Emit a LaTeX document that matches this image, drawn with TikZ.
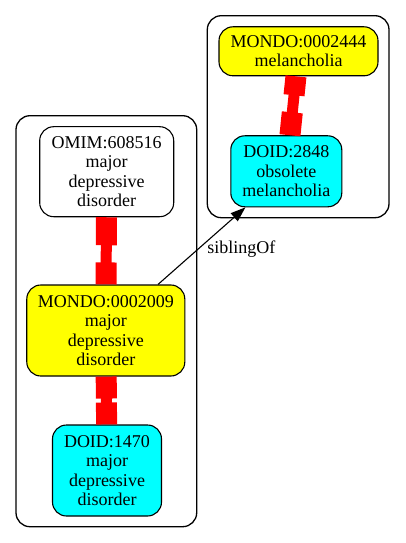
\documentclass[tikz,border=0pt]{standalone}
\usepackage{fontspec}
\setmainfont{Liberation Serif}
\usetikzlibrary{arrows.meta}
\definecolor{termcyan}{RGB}{0,255,255}
\definecolor{termyellow}{RGB}{255,255,0}
\tikzset{
  term/.style={draw,line width=1.1bp,rounded corners=14bp,inner sep=0pt,align=center,font=\fontsize{18bp}{19.2bp}\selectfont},
  cluster/.style={draw,line width=1.3bp,rounded corners=14bp},
  sameas/.style={draw=red,line width=11bp,{Rectangle[length=22bp,width=21bp]}-{Rectangle[length=22bp,width=21bp]}},
  sib/.style={line width=1.1bp,-{Triangle[length=15bp,width=10.5bp]}},
}
\begin{document}
\begin{tikzpicture}[x=1bp,y=-1bp]
\useasboundingbox(0,0)rectangle(405,543);
\draw[cluster](16,115.7)rectangle(196.7,526.7);
\draw[cluster](207.3,15.7)rectangle(389,217.7);
\node[term,fill=white,minimum width=134bp,minimum height=90bp](omim) at (106.7,171.7){OMIM:608516\\major\\depressive\\disorder};
\node[term,fill=termyellow,minimum width=158bp,minimum height=91bp](mondoA) at (105.8,330.5){MONDO:0002009\\major\\depressive\\disorder};
\node[term,fill=termcyan,minimum width=109bp,minimum height=91bp](doidA) at (107,470.5){DOID:1470\\major\\depressive\\disorder};
\node[term,fill=termyellow,minimum width=159bp,minimum height=49bp](mondoB) at (298.5,51.3){MONDO:0002444\\melancholia};
\node[term,fill=termcyan,minimum width=111bp,minimum height=71bp](doidB) at (286.3,171.3){DOID:2848\\obsolete\\melancholia};
\draw[sameas,{Rectangle[length=28bp,width=21bp]}-{Rectangle[length=22bp,width=21bp]}](omim)--(mondoA);
\draw[sameas](mondoA)--(doidA);
\draw[sameas,{Rectangle[length=19bp,width=21bp]}-{Rectangle[length=23bp,width=21bp]}](mondoB)--(doidB);
\draw[sib](mondoA)--node[anchor=west,inner sep=0pt,xshift=5bp,yshift=-3bp,font=\fontsize{18bp}{19.2bp}\selectfont]{siblingOf}(doidB);
\end{tikzpicture}
\end{document}
